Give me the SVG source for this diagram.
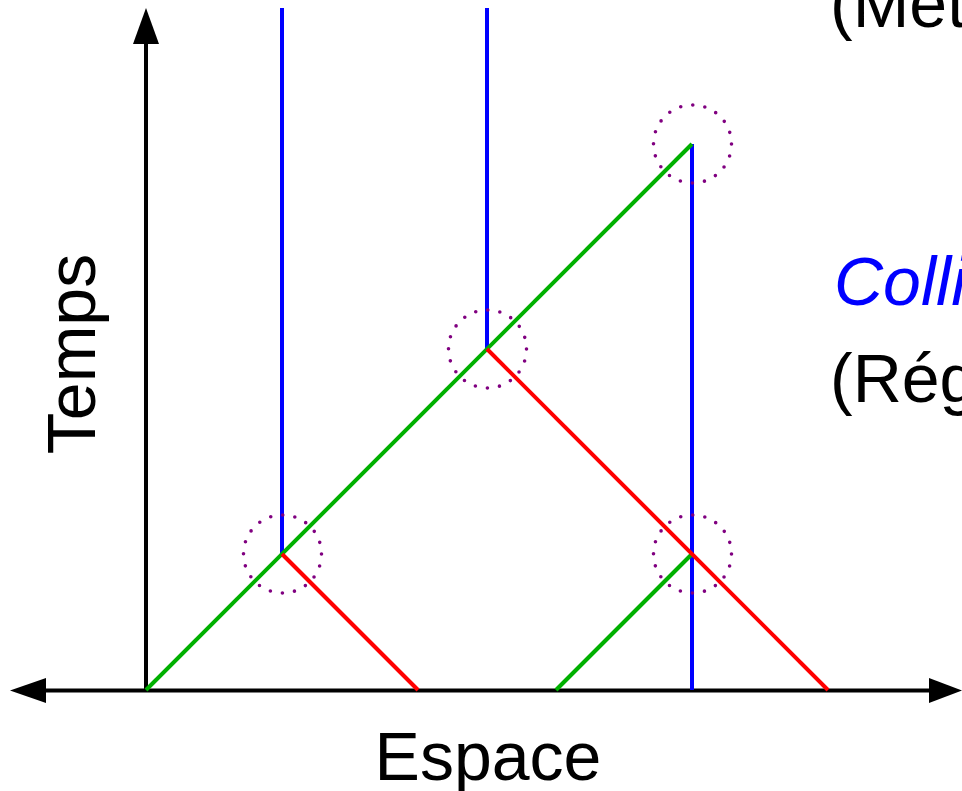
<svg xmlns="http://www.w3.org/2000/svg" width="962" height="791" viewBox="0 0 962 791">
<style>
.axis{stroke:#000;stroke-width:4;fill:none}
.head{fill:#000;stroke:none}
.blue{stroke:#0000ff;stroke-width:4;fill:none}
.green{stroke:#00b000;stroke-width:4;fill:none}
.red{stroke:#ff0000;stroke-width:4;fill:none}
.ring{fill:none;stroke:#800080;stroke-width:3.6;stroke-linecap:round;stroke-dasharray:0 12.252}
.lbl{font-family:"Liberation Sans",Arial,sans-serif;font-size:68px;fill:#000}
</style>
<rect width="962" height="791" fill="#fff"/>
<g id="axes">
<line class="axis" x1="146" y1="690.5" x2="146" y2="40"/>
<line class="axis" x1="44" y1="690.5" x2="931" y2="690.5"/>
<polygon class="head" points="146,8 133,44 159,44"/>
<polygon class="head" points="10,690.5 46,678 46,703"/>
<polygon class="head" points="962,690.5 929,678 929,703"/>
</g>
<g id="connectors">
<line class="blue" x1="282" y1="8" x2="282" y2="554"/>
<line class="blue" x1="487" y1="8" x2="487" y2="349"/>
<line class="blue" x1="692" y1="144" x2="692" y2="690"/>
<line class="green" x1="146" y1="690" x2="692" y2="144"/>
<line class="green" x1="556" y1="690" x2="692" y2="554"/>
<line class="red" x1="282" y1="554" x2="418" y2="690"/>
<line class="red" x1="487" y1="349" x2="828" y2="690"/>
</g>
<g id="collision1"><circle class="ring" cx="282.5" cy="554" r="39"/></g>
<g id="collision2"><circle class="ring" cx="487.5" cy="349" r="39"/></g>
<g id="collision3"><circle class="ring" cx="692.5" cy="144" r="39"/></g>
<g id="collision4"><circle class="ring" cx="692.5" cy="554" r="39"/></g>
<g id="labels">
<text class="lbl" text-anchor="middle" transform="translate(95,354) rotate(-90)">Temps</text>
<text class="lbl" x="488" y="780" text-anchor="middle">Espace</text>
<text class="lbl" x="830" y="27">(Mét</text>
<text class="lbl" x="834" y="305" style="fill:#0000ff;font-style:italic">Colli</text>
<text class="lbl" x="830" y="402">(Rég</text>
</g>
</svg>
